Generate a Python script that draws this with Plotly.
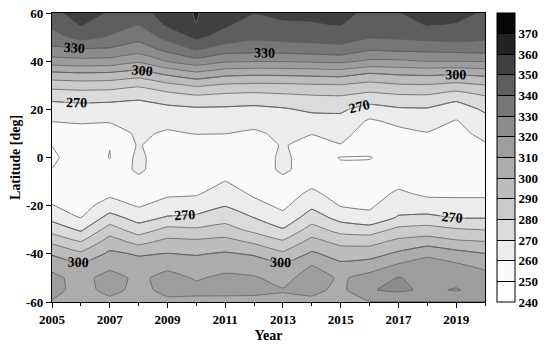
import numpy as np
import plotly.graph_objects as go

years = list(range(2005, 2021))
latitudes = list(range(-60, 61, 5))  # -60 ... 60

# Zonal-mean values (rows: latitude -60..60 step 5), one list per year
oz_2005 = [309.5, 312.8, 312.2, 307.5, 299.0, 288.2, 276.1, 267.1, 260.4, 257.0, 255.0, 250.2, 248.0, 250.2, 255.0, 260.1, 265.7, 272.3, 283.7, 298.2, 315.7, 327.9, 335.8, 342.1, 347.0]
oz_2006 = [303.0, 306.8, 306.9, 301.8, 292.1, 280.2, 268.6, 259.8, 256.5, 254.0, 253.0, 253.0, 256.0, 254.0, 253.0, 261.8, 266.6, 273.1, 284.9, 299.4, 317.1, 329.3, 343.8, 350.8, 355.0]
oz_2007 = [307.5, 312.7, 313.6, 307.7, 301.9, 294.5, 284.8, 273.8, 264.2, 258.0, 255.0, 253.0, 249.7, 250.2, 254.0, 260.8, 266.1, 272.7, 284.3, 298.8, 316.4, 328.9, 339.0, 344.3, 349.0]
oz_2008 = [304.0, 307.4, 307.9, 303.8, 299.1, 286.9, 274.9, 266.2, 259.2, 256.0, 257.0, 262.0, 262.5, 261.0, 262.0, 263.5, 266.9, 271.0, 281.4, 295.7, 311.7, 324.8, 333.2, 340.0, 345.0]
oz_2009 = [308.0, 312.5, 313.2, 307.8, 300.3, 292.9, 282.9, 271.0, 263.5, 258.5, 255.5, 253.5, 253.0, 253.5, 258.5, 263.5, 267.6, 274.4, 287.1, 302.6, 320.5, 333.0, 343.3, 351.7, 356.0]
oz_2010 = [307.5, 312.5, 309.1, 304.3, 299.3, 292.1, 281.5, 272.0, 264.9, 259.0, 256.0, 253.5, 253.0, 253.5, 260.5, 264.5, 268.4, 277.5, 291.5, 308.1, 326.3, 341.3, 352.3, 359.9, 360.6]
oz_2011 = [307.5, 312.4, 311.9, 307.1, 301.1, 293.4, 284.1, 276.1, 269.6, 264.8, 260.2, 256.0, 253.5, 254.0, 260.2, 264.3, 268.4, 276.0, 288.6, 303.6, 321.4, 335.0, 346.0, 351.5, 354.0]
oz_2012 = [307.5, 312.1, 311.0, 305.4, 299.0, 288.4, 277.2, 270.0, 263.2, 258.5, 256.0, 254.0, 253.0, 254.5, 258.5, 263.1, 267.7, 275.2, 287.7, 302.6, 320.5, 334.3, 341.8, 345.5, 350.5]
oz_2013 = [308.0, 310.6, 306.5, 301.7, 292.1, 281.5, 271.0, 262.9, 258.0, 256.0, 257.0, 262.0, 262.5, 261.0, 262.0, 264.0, 269.0, 276.7, 287.9, 302.9, 320.6, 334.7, 343.3, 348.9, 352.0]
oz_2014 = [307.5, 312.6, 315.1, 310.4, 301.6, 293.4, 284.1, 275.2, 267.8, 261.8, 257.5, 255.0, 254.0, 255.5, 260.5, 266.0, 271.6, 278.1, 288.8, 303.6, 321.5, 335.9, 343.9, 349.4, 352.0]
oz_2015 = [305.0, 307.5, 308.5, 302.4, 295.9, 287.1, 276.3, 266.5, 259.5, 256.5, 254.5, 251.5, 249.6, 259.5, 263.2, 267.0, 271.5, 278.6, 289.3, 304.4, 322.4, 337.1, 344.2, 350.5, 354.0]
oz_2016 = [309.5, 319.3, 314.0, 305.1, 295.9, 286.7, 274.8, 262.7, 258.5, 256.5, 255.0, 251.5, 249.7, 253.0, 255.5, 258.5, 266.0, 275.5, 286.3, 300.2, 318.3, 331.3, 340.9, 343.9, 347.0]
oz_2017 = [309.5, 322.0, 320.5, 311.7, 301.9, 292.7, 282.7, 271.0, 265.9, 261.4, 257.5, 254.0, 253.0, 253.5, 257.5, 262.0, 268.7, 277.3, 288.8, 301.8, 318.4, 332.5, 341.6, 345.5, 349.5]
oz_2018 = [309.7, 318.0, 317.0, 313.3, 308.6, 295.1, 284.1, 272.7, 263.7, 258.5, 256.0, 254.0, 253.0, 254.0, 259.5, 264.2, 269.0, 277.5, 289.3, 302.6, 320.3, 332.9, 343.1, 350.7, 358.0]
oz_2019 = [309.7, 320.8, 316.4, 312.1, 303.8, 291.7, 281.2, 269.6, 263.0, 258.5, 256.0, 254.0, 253.0, 254.0, 257.0, 259.3, 265.2, 272.6, 286.9, 301.8, 320.2, 333.8, 344.2, 349.5, 353.0]
oz_2020 = [309.8, 316.0, 314.5, 307.5, 300.4, 290.4, 279.8, 269.6, 263.0, 258.5, 256.0, 254.0, 253.5, 258.8, 262.8, 266.8, 271.4, 278.6, 289.6, 303.6, 320.6, 334.6, 342.1, 345.5, 349.0]

columns = [oz_2005, oz_2006, oz_2007, oz_2008, oz_2009, oz_2010, oz_2011, oz_2012,
           oz_2013, oz_2014, oz_2015, oz_2016, oz_2017, oz_2018, oz_2019, oz_2020]
z = np.array(columns).T

level_start, level_end, level_step = 240, 370, 10
cbar_min, cbar_max = 240, 380
label_step = 30
label_levels_lo, label_levels_hi = -330, 930   # only 270 / 300 / 330 fall inside the data
x_tickvals = list(range(2005, 2020, 2))
y_tickvals = list(range(-60, 61, 20))
y_ticktext = [str(v) for v in y_tickvals]
cb_tickvals = list(range(240, 371, 10))

# gray level of each band: below 240, 240-250, ..., 370+
band_gray = [255, 255, 250, 236, 219, 203, 188, 172, 157, 140, 118, 94, 64, 34, 8]
n = len(band_gray) - 1
colorscale = [[k / n, f"rgb({g},{g},{g})"] for k, g in enumerate(band_gray)]

# stepped colour scale for the 240..380 colour bar (14 bands)
bar_bands = band_gray[1:]
nb = len(bar_bands)
bar_scale = []
for k, g in enumerate(bar_bands):
    c = f"rgb({g},{g},{g})"
    bar_scale.append([k / nb, c])
    bar_scale.append([(k + 1) / nb, c])

FONT = "Liberation Serif, Times New Roman, serif"
line_col = "#5f5f5f"

fig = go.Figure()
fig.add_trace(go.Contour(
    x=years, y=latitudes, z=z,
    colorscale=colorscale, showscale=False,
    contours=dict(start=level_start, end=level_end, size=level_step, coloring="fill"),
    line=dict(color=line_col, width=0.8, smoothing=0.3),
    hoverinfo="skip",
))
fig.add_trace(go.Contour(
    x=years, y=latitudes, z=z,
    contours=dict(start=label_levels_lo, end=label_levels_hi, size=label_step,
                  coloring="none", showlabels=True,
                  labelfont=dict(family=FONT, size=14, color="black", weight="bold")),
    line=dict(color=line_col, width=0.8, smoothing=0.3),
    showscale=False, hoverinfo="skip",
))
# colour bar holder (an invisible marker carrying the 240..380 scale)
fig.add_trace(go.Scatter(
    x=[years[0]], y=[latitudes[0]], mode="markers", hoverinfo="skip",
    marker=dict(
        size=1, opacity=0, color=[cbar_min], cmin=cbar_min, cmax=cbar_max,
        colorscale=bar_scale, showscale=True,
        colorbar=dict(
            thickness=18, len=1.0, lenmode="fraction", y=0.5, yanchor="middle",
            x=1.0277, xanchor="left", xpad=0, ypad=0,
            outlinecolor="black", outlinewidth=1,
            tickvals=cb_tickvals, ticks="inside", ticklen=18, tickcolor="black", tickwidth=1,
            tickfont=dict(family=FONT, size=13, color="black", weight="bold"),
        ),
    ),
))

axis_common = dict(
    showline=True, linecolor="black", linewidth=1.2, mirror=True, automargin=False,
    ticks="outside", ticklen=5, tickcolor="black", showgrid=False, zeroline=False,
    tickfont=dict(family=FONT, size=13, color="black", weight="bold"),
)
fig.update_xaxes(range=[2005, 2020], tickvals=x_tickvals,
                 minor=dict(dtick=1, ticks="outside", ticklen=3, tickcolor="black"),
                 title=dict(text="Year", font=dict(family=FONT, size=14, color="black", weight="bold"), standoff=4),
                 **axis_common)
fig.update_yaxes(range=[-60, 60], tickvals=y_tickvals, ticktext=y_ticktext,
                 title=dict(text="Latitude [deg]", font=dict(family=FONT, size=14, color="black", weight="bold"), standoff=2),
                 **axis_common)
fig.update_layout(
    width=550, height=347,
    margin=dict(l=52, r=65, t=13, b=45, autoexpand=False),
    paper_bgcolor="white", plot_bgcolor="white",
    showlegend=False,
)
fig.write_html("out.html", config={"displayModeBar": False},
               post_script="document.body.style.margin='0px';")
